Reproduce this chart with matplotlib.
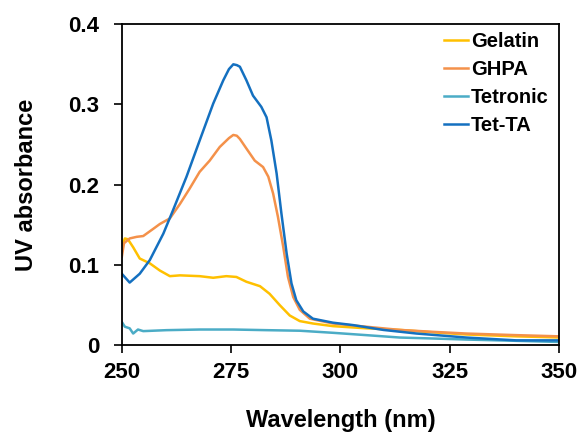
import numpy as np
import matplotlib.pyplot as plt

plt.rcParams['font.family'] = ['Liberation Sans', 'DejaVu Sans']
plt.rcParams['font.weight'] = 'bold'

# data
tet_ta_x = [250, 251.8, 254.1, 256.4, 259.5, 261.7, 264.8, 267.8, 270.9, 273.2, 274.5, 275.5, 276.3, 277.0,
            278.5, 280.0, 281.9, 283.1, 284.2, 285.4, 286.5, 287.7, 288.8, 289.9, 291.5, 293.7,
            298.3, 302.9, 309.8, 317.4, 328.8, 340.2, 350]
tet_ta_y = [0.089, 0.078, 0.089, 0.106, 0.139, 0.168, 0.210, 0.255, 0.301, 0.330, 0.344, 0.350, 0.349, 0.347,
            0.330, 0.311, 0.297, 0.284, 0.255, 0.214, 0.164, 0.114, 0.077, 0.056, 0.042, 0.033,
            0.028, 0.025, 0.019, 0.0145, 0.0095, 0.006, 0.006]

ghpa_x = [250, 250.5, 251.8, 253.4, 254.9, 257.2, 258.7, 261.0, 263.3, 265.5, 267.8, 270.1,
          272.4, 274.5, 275.5, 276.3, 277.0, 278.5, 280.4, 282.3, 283.5, 284.6, 285.7, 286.9, 288.0, 289.2,
          290.7, 293.0, 298.3, 305.9, 313.6, 321.2, 328.8, 340.2, 350]
ghpa_y = [0.110, 0.127, 0.133, 0.135, 0.136, 0.145, 0.151, 0.158, 0.176, 0.195, 0.216, 0.230,
          0.247, 0.258, 0.262, 0.261, 0.257, 0.245, 0.230, 0.222, 0.210, 0.189, 0.160, 0.123, 0.085, 0.060,
          0.044, 0.033, 0.027, 0.023, 0.019, 0.0166, 0.0145, 0.0125, 0.011]

gelatin_x = [250, 250.7, 251.4, 252.6, 254.1, 256.4, 258.7, 261.0, 263.3, 267.8, 270.9, 273.9,
             276.2, 278.5, 281.6, 283.8, 286.1, 288.4, 290.7, 293.7, 298.3, 305.9, 313.6, 321.2,
             328.8, 340.2, 350]
gelatin_y = [0.122, 0.133, 0.132, 0.122, 0.108, 0.102, 0.093, 0.086, 0.087, 0.086, 0.084, 0.086,
             0.085, 0.079, 0.0735, 0.064, 0.050, 0.037, 0.030, 0.027, 0.0237, 0.021, 0.019, 0.016,
             0.0133, 0.011, 0.0096]

tetronic_x = [250, 250.7, 251.8, 252.6, 253.7, 254.9, 260.2, 267.8, 275.5, 283.1, 290.7, 298.3,
              305.9, 313.6, 321.2, 328.8, 340.2, 350]
tetronic_y = [0.029, 0.023, 0.021, 0.0145, 0.0195, 0.0175, 0.0187, 0.0195, 0.0195, 0.0187, 0.018,
              0.0154, 0.0125, 0.0095, 0.0083, 0.007, 0.0054, 0.004]

fig = plt.figure(figsize=(5.8, 4.32), dpi=100)
ax = fig.add_axes([0.210, 0.201, 0.754, 0.743])

ax.plot(gelatin_x, gelatin_y, color='#FFC000', lw=1.8, label='Gelatin')
ax.plot(ghpa_x, ghpa_y, color='#F4914A', lw=1.8, label='GHPA')
ax.plot(tetronic_x, tetronic_y, color='#4BACC6', lw=1.8, label='Tetronic')
ax.plot(tet_ta_x, tet_ta_y, color='#1470C0', lw=1.8, label='Tet-TA')

ax.set_xlim(250, 350)
ax.set_ylim(0, 0.4)
ax.set_xticks([250, 275, 300, 325, 350])
ax.set_yticks([0, 0.1, 0.2, 0.3, 0.4])
ax.set_yticklabels(['0', '0.1', '0.2', '0.3', '0.4'])
ax.tick_params(direction='out', length=6, width=1.2, labelsize=16)
ax.tick_params(axis='x', pad=6)
ax.tick_params(axis='y', pad=10)
for s in ax.spines.values():
    s.set_linewidth(1.3)

ax.set_xlabel('Wavelength (nm)', fontsize=17, fontweight='bold', labelpad=19)
ax.set_ylabel('UV absorbance', fontsize=17, fontweight='bold', labelpad=22)

leg = ax.legend(loc='upper right', frameon=False, fontsize=14.5, handlelength=1.2,
                handletextpad=0.15, labelspacing=0.45, borderaxespad=0.0,
                bbox_to_anchor=(0.995, 1.0))
for t in leg.get_texts():
    t.set_fontweight('bold')

fig.savefig('out.png', dpi=100)
